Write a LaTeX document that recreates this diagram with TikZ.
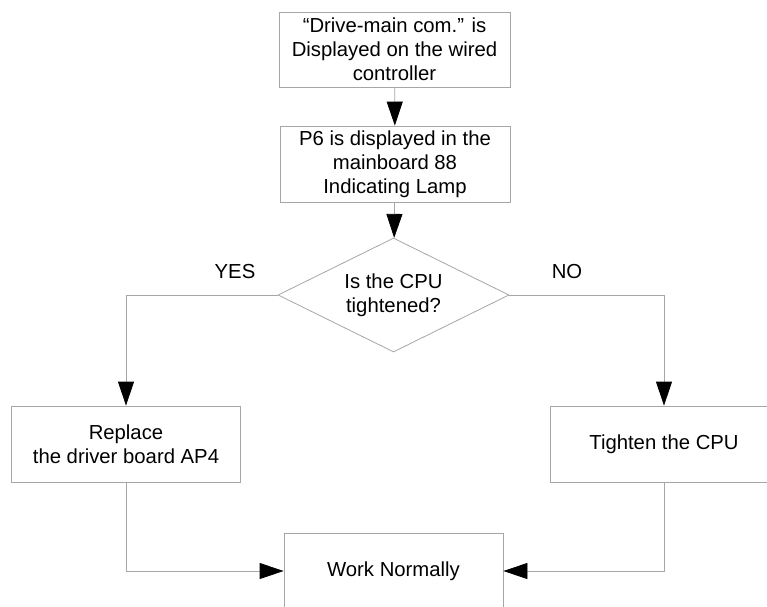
\documentclass[tikz,border=0pt]{standalone}
\usepackage{fontspec}
\setmainfont{Liberation Sans}
\usetikzlibrary{positioning,shapes.geometric,arrows.meta}

\begin{document}
\begin{tikzpicture}[
  x=1pt, y=-1pt,
  stepbox/.style={draw=gray!70, minimum width=230pt, minimum height=76pt, align=center, font=\fontsize{20.3}{24}\selectfont, fill=white, line width=0.8pt, inner sep=0pt},
  decision/.style={draw=gray!70, diamond, aspect=2.03, minimum width=231pt, minimum height=114pt, align=center, font=\fontsize{20.3}{24}\selectfont, fill=white, line width=0.8pt, inner sep=0pt},
  branch/.style={font=\fontsize{20.3}{24}\selectfont, inner sep=0pt},
  line/.style={-{Triangle[length=24pt,width=16pt,color=black]}, draw=gray!70, line width=0.8pt}
]
  \clip (0,0) rectangle (767,606);
  \fill[white] (0,0) rectangle (767,606);

  \node[stepbox, minimum width=231pt, minimum height=75pt] (display) at (394.5,49.5) {``Drive-main com.'' is\\Displayed on the wired\\controller};
  \node[stepbox] (lamp) at (395,164) {P6 is displayed in the\\mainboard 88\\Indicating Lamp};
  \node[decision] (tight) at (393.5,295) {Is the CPU\\tightened?};
  \node[stepbox, minimum width=229pt] (replace) at (126,444) {Replace\\the driver board AP4};
  \node[stepbox, minimum width=228pt] (tighten) at (664,444) {Tighten the CPU};
  \node[stepbox, minimum width=219pt] (normal) at (393.5,571) {Work Normally};

  \node[branch] (yes) at (235,272) {YES};
  \node[branch] (no) at (567,272) {NO};

  \draw[line] (display) -- (lamp);
  \draw[line] (lamp) -- (tight);
  \draw[line] (tight.west) -| (replace.north);
  \draw[line] (tight.east) -| (tighten.north);
  \draw[line] (replace.south) |- (normal.west);
  \draw[line] (tighten.south) |- (normal.east);
\end{tikzpicture}
\end{document}
